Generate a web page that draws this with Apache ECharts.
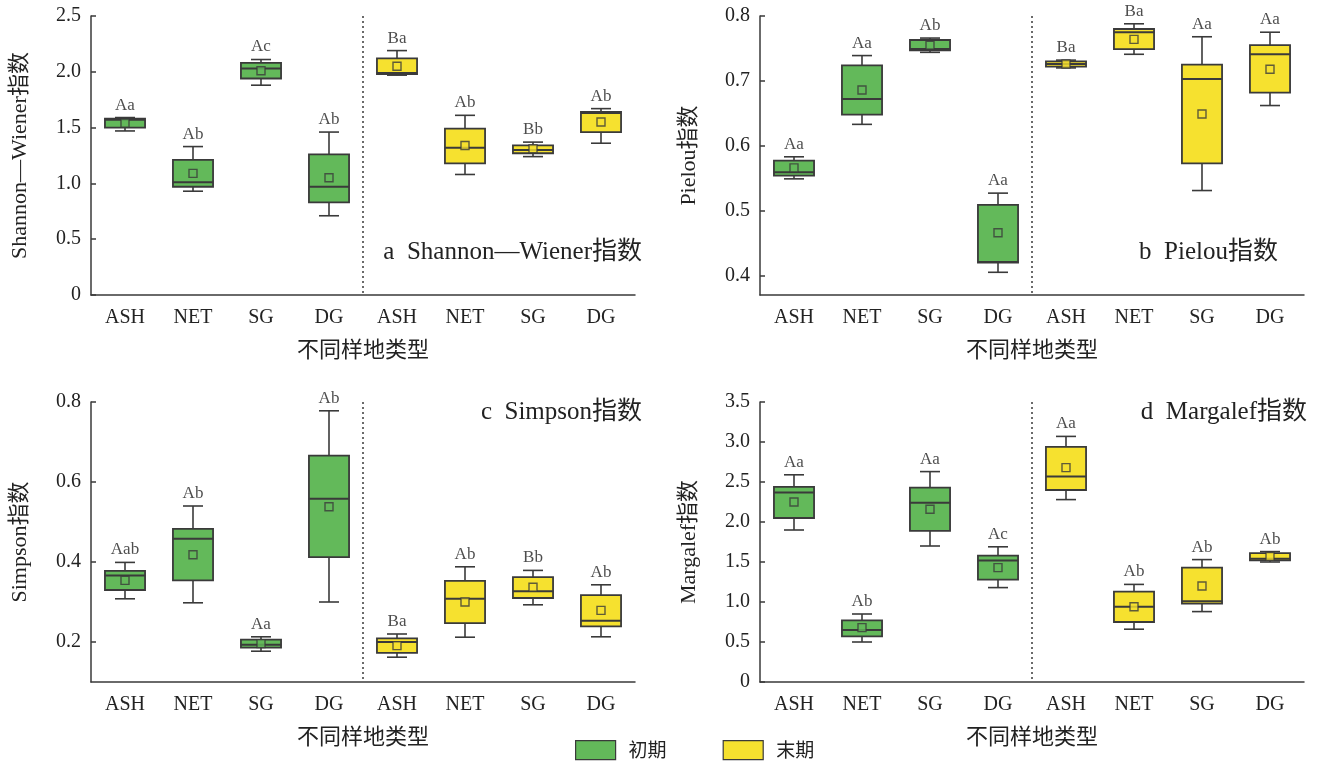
<!DOCTYPE html>
<html>
<head>
<meta charset="utf-8">
<script src="https://cdn.jsdelivr.net/npm/echarts@6/dist/echarts.min.js"></script>
<style>
html,body{margin:0;padding:0;background:#fff;}
#chart{width:1318px;height:762px;}
</style>
</head>
<body>
<div id="chart"></div>
<script>
// 样地类型（初期 4 个 + 末期 4 个）
var categories = ['ASH', 'NET', 'SG', 'DG'];

// 箱线数据: [min, q1, median, q3, max]
var shannonEarly = [[1.47, 1.50, 1.57, 1.58, 1.59], [0.93, 0.97, 1.01, 1.21, 1.33], [1.88, 1.94, 2.03, 2.08, 2.11], [0.71, 0.83, 0.97, 1.26, 1.46]];
var shannonLate = [[1.97, 1.98, 1.99, 2.12, 2.19], [1.08, 1.18, 1.32, 1.49, 1.61], [1.24, 1.27, 1.30, 1.34, 1.37], [1.36, 1.46, 1.63, 1.64, 1.67]];
var shannonMean = [1.54, 1.09, 2.01, 1.05, 2.05, 1.34, 1.31, 1.55];
var shannonSig = ['Aa', 'Ab', 'Ac', 'Ab', 'Ba', 'Ab', 'Bb', 'Ab'];

var pielouEarly = [[0.549, 0.554, 0.559, 0.577, 0.583], [0.633, 0.648, 0.672, 0.724, 0.739], [0.744, 0.747, 0.749, 0.763, 0.766], [0.405, 0.420, 0.421, 0.509, 0.527]];
var pielouLate = [[0.720, 0.722, 0.726, 0.730, 0.732], [0.741, 0.749, 0.775, 0.780, 0.788], [0.531, 0.573, 0.703, 0.725, 0.768], [0.662, 0.682, 0.741, 0.755, 0.775]];
var pielouMean = [0.566, 0.686, 0.755, 0.466, 0.726, 0.764, 0.649, 0.718];
var pielouSig = ['Aa', 'Aa', 'Ab', 'Aa', 'Ba', 'Ba', 'Aa', 'Aa'];

var simpsonEarly = [[0.308, 0.330, 0.366, 0.378, 0.399], [0.298, 0.354, 0.458, 0.483, 0.540], [0.177, 0.186, 0.193, 0.206, 0.213], [0.300, 0.412, 0.558, 0.666, 0.778]];
var simpsonLate = [[0.162, 0.173, 0.200, 0.209, 0.220], [0.212, 0.247, 0.308, 0.353, 0.388], [0.293, 0.310, 0.327, 0.362, 0.379], [0.213, 0.239, 0.253, 0.317, 0.343]];
var simpsonMean = [0.354, 0.418, 0.196, 0.538, 0.191, 0.300, 0.337, 0.279];
var simpsonSig = ['Aab', 'Ab', 'Aa', 'Ab', 'Ba', 'Ab', 'Bb', 'Ab'];

var margalefEarly = [[1.90, 2.05, 2.37, 2.44, 2.59], [0.50, 0.57, 0.65, 0.77, 0.85], [1.70, 1.89, 2.24, 2.43, 2.63], [1.18, 1.28, 1.52, 1.58, 1.69]];
var margalefLate = [[2.28, 2.40, 2.57, 2.94, 3.07], [0.66, 0.75, 0.94, 1.13, 1.22], [0.88, 0.98, 1.01, 1.43, 1.53], [1.50, 1.52, 1.54, 1.61, 1.63]];
var margalefMean = [2.25, 0.68, 2.16, 1.43, 2.68, 0.94, 1.20, 1.57];
var margalefSig = ['Aa', 'Ab', 'Aa', 'Ac', 'Aa', 'Ab', 'Ab', 'Ab'];

var GREEN = '#63b95a', YELLOW = '#f6e12f', EDGE = '#3a3a3a', INK = '#222';
var SERIF = "'Liberation Serif','Noto Sans CJK SC',serif";
var CJK = "'Noto Sans CJK SC',sans-serif";

var panels = [
    {early: shannonEarly, late: shannonLate, mean: shannonMean, sig: shannonSig, name: 'Shannon—Wiener指数', min: 0, max: 2.5, interval: 0.5,
        grid: {left: 91, top: 16, width: 544, height: 279}, title: 'a  Shannon—Wiener指数', titlePos: {right: 671, top: 235}},
    {early: pielouEarly, late: pielouLate, mean: pielouMean, sig: pielouSig, name: 'Pielou指数', min: 0.37, max: 0.8, ticks: [0.4, 0.5, 0.6, 0.7, 0.8],
        grid: {left: 760, top: 16, width: 544, height: 279}, title: 'b  Pielou指数', titlePos: {right: 35, top: 235}},
    {early: simpsonEarly, late: simpsonLate, mean: simpsonMean, sig: simpsonSig, name: 'Simpson指数', min: 0.1, max: 0.8, ticks: [0.2, 0.4, 0.6, 0.8],
        grid: {left: 91, top: 402, width: 544, height: 280}, title: 'c  Simpson指数', titlePos: {right: 671, top: 395}},
    {early: margalefEarly, late: margalefLate, mean: margalefMean, sig: margalefSig, name: 'Margalef指数', min: 0, max: 3.5, interval: 0.5,
        grid: {left: 760, top: 402, width: 544, height: 280}, title: 'd  Margalef指数', titlePos: {right: 6, top: 395}}
];

// 自绘箱线（须线端为半宽）
function renderBox(params, api) {
    var x = api.value(0);
    var lo = api.coord([x, api.value(1)]), q1 = api.coord([x, api.value(2)]), md = api.coord([x, api.value(3)]),
        q3 = api.coord([x, api.value(4)]), hi = api.coord([x, api.value(5)]);
    var bw = api.size([1, 0])[0] * 0.59, cw = bw / 2, cx = lo[0];
    var ln = {stroke: EDGE, lineWidth: 1.6};
    return {
        type: 'group',
        children: [
            {type: 'line', shape: {x1: cx, y1: hi[1], x2: cx, y2: q3[1]}, style: ln},
            {type: 'line', shape: {x1: cx, y1: q1[1], x2: cx, y2: lo[1]}, style: ln},
            {type: 'line', shape: {x1: cx - cw / 2, y1: hi[1], x2: cx + cw / 2, y2: hi[1]}, style: ln},
            {type: 'line', shape: {x1: cx - cw / 2, y1: lo[1], x2: cx + cw / 2, y2: lo[1]}, style: ln},
            {type: 'rect', shape: {x: cx - bw / 2, y: q3[1], width: bw, height: q1[1] - q3[1]},
                style: {fill: api.visual('color'), stroke: EDGE, lineWidth: 1.8}},
            {type: 'line', shape: {x1: cx - bw / 2, y1: md[1], x2: cx + bw / 2, y2: md[1]}, style: {stroke: EDGE, lineWidth: 2}}
        ]
    };
}

// 初期/末期分隔虚线
function renderDivider(params, api) {
    var a = api.coord([3, 0]), b = api.coord([4, 0]);
    var cs = params.coordSys, x = (a[0] + b[0]) / 2;
    return {type: 'line', shape: {x1: x, y1: cs.y, x2: x, y2: cs.y + cs.height},
        style: {stroke: EDGE, lineWidth: 1.5, lineDash: [2, 3]}};
}

var grids = [], xAxes = [], yAxes = [], series = [], titles = [];
panels.forEach(function (p, k) {
    grids.push(p.grid);
    titles.push({text: p.title, right: p.titlePos.right, top: p.titlePos.top,
        textStyle: {fontFamily: SERIF, fontSize: 25, fontWeight: 'normal', color: INK}});
    xAxes.push({
        type: 'category', gridIndex: k, data: categories.concat(categories), boundaryGap: true,
        name: '不同样地类型', nameLocation: 'middle', nameGap: 43,
        nameTextStyle: {fontFamily: CJK, fontSize: 22, color: INK},
        axisLine: {lineStyle: {color: EDGE, width: 1.5}},
        axisTick: {inside: true, alignWithLabel: true, length: 5, lineStyle: {color: EDGE, width: 1.5}},
        axisLabel: {fontFamily: SERIF, fontSize: 20, color: INK, margin: 13, interval: 0},
        splitLine: {show: false}
    });
    var y = {
        type: 'value', gridIndex: k, min: p.min, max: p.max,
        name: p.name, nameLocation: 'middle', nameGap: 60, nameRotate: 90,
        nameTextStyle: {fontFamily: SERIF, fontSize: 22, color: INK},
        axisLine: {show: true, lineStyle: {color: EDGE, width: 1.5}},
        axisTick: {show: true, inside: true, length: 5, lineStyle: {color: EDGE, width: 1.5}},
        axisLabel: {fontFamily: SERIF, fontSize: 20, color: INK, margin: 10,
            formatter: function (v) { return v === 0 ? '0' : v.toFixed(1); }},
        splitLine: {show: false}
    };
    if (p.ticks) {
        y.axisTick.customValues = p.ticks;
        y.axisLabel.customValues = p.ticks;
    } else {
        y.interval = p.interval;
    }
    yAxes.push(y);

    var earlyData = p.early.map(function (d, i) { return [i].concat(d); });
    var lateData = p.late.map(function (d, i) { return [i + 4].concat(d); });
    series.push({type: 'custom', name: '初期', xAxisIndex: k, yAxisIndex: k, renderItem: renderBox,
        itemStyle: {color: GREEN}, encode: {x: 0, y: [1, 2, 3, 4, 5]}, data: earlyData, z: 2});
    series.push({type: 'custom', name: '末期', xAxisIndex: k, yAxisIndex: k, renderItem: renderBox,
        itemStyle: {color: YELLOW}, encode: {x: 0, y: [1, 2, 3, 4, 5]}, data: lateData, z: 2});
    // 平均值
    series.push({type: 'scatter', xAxisIndex: k, yAxisIndex: k, symbol: 'rect', symbolSize: 8, z: 3,
        data: p.mean.map(function (v, i) {
            return {value: [i, v], itemStyle: {color: i < 4 ? GREEN : YELLOW, borderColor: EDGE, borderWidth: 1.4}};
        })});
    // 显著性字母
    var tops = p.early.concat(p.late).map(function (d, i) { return [i, d[4]]; });
    series.push({type: 'scatter', xAxisIndex: k, yAxisIndex: k, symbolSize: 0, silent: true, z: 4,
        data: tops,
        label: {show: true, position: 'top', distance: 4, fontFamily: SERIF, fontSize: 17, color: INK,
            formatter: function (o) { return p.sig[o.dataIndex]; }}});
    series.push({type: 'custom', xAxisIndex: k, yAxisIndex: k, renderItem: renderDivider, silent: true, data: [[3.5, p.min]], z: 1});
});

var chart = echarts.init(document.getElementById('chart'), null, {renderer: 'canvas'});
chart.setOption({
    animation: false,
    backgroundColor: '#fff',
    title: titles,
    grid: grids,
    xAxis: xAxes,
    yAxis: yAxes,
    legend: {
        left: 570, top: 735, itemWidth: 40, itemHeight: 19, itemGap: 56,
        textStyle: {fontFamily: CJK, fontSize: 19, color: INK, padding: [0, 0, 0, 8]},
        data: [
            {name: '初期', icon: 'rect', itemStyle: {color: GREEN, borderColor: EDGE, borderWidth: 1.2}},
            {name: '末期', icon: 'rect', itemStyle: {color: YELLOW, borderColor: EDGE, borderWidth: 1.2}}
        ]
    },
    series: series
});
</script>
</body>
</html>
